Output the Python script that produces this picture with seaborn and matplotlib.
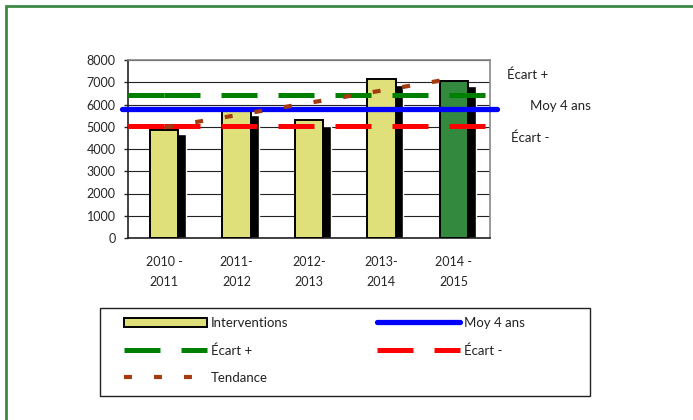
import numpy as np
import pandas as pd
import seaborn as sns
import matplotlib.pyplot as plt
from matplotlib.patches import Rectangle, Patch
from matplotlib.lines import Line2D

# donnees
saisons = ["2010 -\n2011", "2011-\n2012", "2012-\n2013", "2013-\n2014", "2014 -\n2015"]
interventions = [4850, 5750, 5300, 7150, 7070]
ombre = [4670, 5540, 5030, 6880, 6830]
couleurs = ["#e0e07a", "#e0e07a", "#e0e07a", "#e0e07a", "#338a3e"]
moy_4_ans = 5800
ecart_plus = 6430
ecart_moins = 5050
tendance_x = [0.02, 3.95]
tendance_y = [4980, 7150]

sns.set_style("white")
plt.rcParams['font.family'] = ['Lato', 'DejaVu Sans']
plt.rcParams['font.size'] = 9
plt.rcParams['text.color'] = '#222222'

df = pd.DataFrame({"saison": saisons, "interventions": interventions})

fig = plt.figure(figsize=(6.93, 4.20), dpi=100)
ax = fig.add_axes([128 / 693, 1 - 238 / 420, 362 / 693, 178 / 420])

# ombre des barres
ax.bar(np.arange(len(ombre)) + 0.11, ombre, width=0.39, color="black", zorder=2)
sns.barplot(data=df, x="saison", y="interventions", hue="saison", palette=couleurs,
            width=0.39, edgecolor="black", linewidth=1.4, legend=False, ax=ax,
            saturation=1, zorder=3)

ax.set_xlim(-0.5, 4.5)
ax.set_ylim(0, 8000)
ax.set_yticks(range(0, 8001, 1000))
ax.yaxis.grid(True, color="#222222", linewidth=0.8, zorder=1)
ax.set_axisbelow(True)

ax.set_xticks(np.arange(6) - 0.5)
ax.set_xticklabels([""] * 6)
ax.set_xticks(np.arange(5), minor=True)
ax.set_xticklabels(saisons, minor=True, linespacing=1.75)
ax.tick_params(axis="x", which="major", length=5, width=1, color="#444444", direction="out")
ax.tick_params(axis="x", which="minor", length=0, pad=13)
ax.tick_params(axis="y", length=3, width=1, pad=6, left=True, direction="out")
ax.set_xlabel("")
ax.set_ylabel("")

for s in ["top", "right"]:
    ax.spines[s].set_color("#888888")
    ax.spines[s].set_linewidth(1.2)
for s in ["left", "bottom"]:
    ax.spines[s].set_color("#222222")
    ax.spines[s].set_linewidth(1.2)

# lignes de reference (tirets + premier segment plein)
style_tirets = (4.2, (7.2, 4.2))
for niveau, coul in [(ecart_plus, "#008000"), (ecart_moins, "#ff0000")]:
    ax.plot([-0.5, 4.5], [niveau, niveau], color=coul, lw=3.6,
            linestyle=style_tirets, solid_capstyle="butt", zorder=5)
    ax.plot([-0.5, 0.0], [niveau, niveau], color=coul, lw=3.6,
            solid_capstyle="butt", zorder=5)
ax.plot([-0.58, 4.6], [moy_4_ans, moy_4_ans], color="#0000ff", lw=3.8,
        clip_on=False, zorder=6)
ax.plot(tendance_x, tendance_y, color="#a33a10", lw=3, dashes=(1.9, 5.3), zorder=7)

# libelles a droite
fig.text(507 / 693, 1 - 75 / 420, "Écart +", va="center", fontsize=9.5)
fig.text(530 / 693, 1 - 106 / 420, "Moy 4 ans", va="center", fontsize=9.5)
fig.text(511 / 693, 1 - 138 / 420, "Écart -", va="center", fontsize=9.5)

# legende
handles = [
    Patch(facecolor="#e0e07a", edgecolor="black", linewidth=1.4),
    Line2D([], [], color="#008000", lw=3.6, dashes=(7.2, 4.2)),
    Line2D([], [], color="#a33a10", lw=3, dashes=(1.9, 5.3)),
    Line2D([], [], color="#0000ff", lw=3.8, solid_capstyle="round"),
    Line2D([], [], color="#ff0000", lw=3.6, dashes=(7.2, 4.2)),
]
labels = ["Interventions", "Écart +", "Tendance", "Moy 4 ans", "Écart -"]
fig.legend(handles, labels, ncol=2, loc="upper left",
           bbox_to_anchor=(124 / 693, 1 - 317 / 420), frameon=False,
           handlelength=6.3, handletextpad=0.3, columnspacing=6.7,
           labelspacing=1.15, borderpad=0, borderaxespad=0, fontsize=9.5)
fig.patches.append(Rectangle((100 / 693, 1 - 396 / 420), 490 / 693, 88 / 420,
                             transform=fig.transFigure, fill=False,
                             edgecolor="#222222", linewidth=1))

# cadre vert
fig.patches.append(Rectangle((6 / 693, -0.05), 1.05, 1 - 6 / 420 + 0.05,
                             transform=fig.transFigure, fill=False,
                             edgecolor="#3a8a45", linewidth=2))

fig.savefig("out.png", dpi=100)
